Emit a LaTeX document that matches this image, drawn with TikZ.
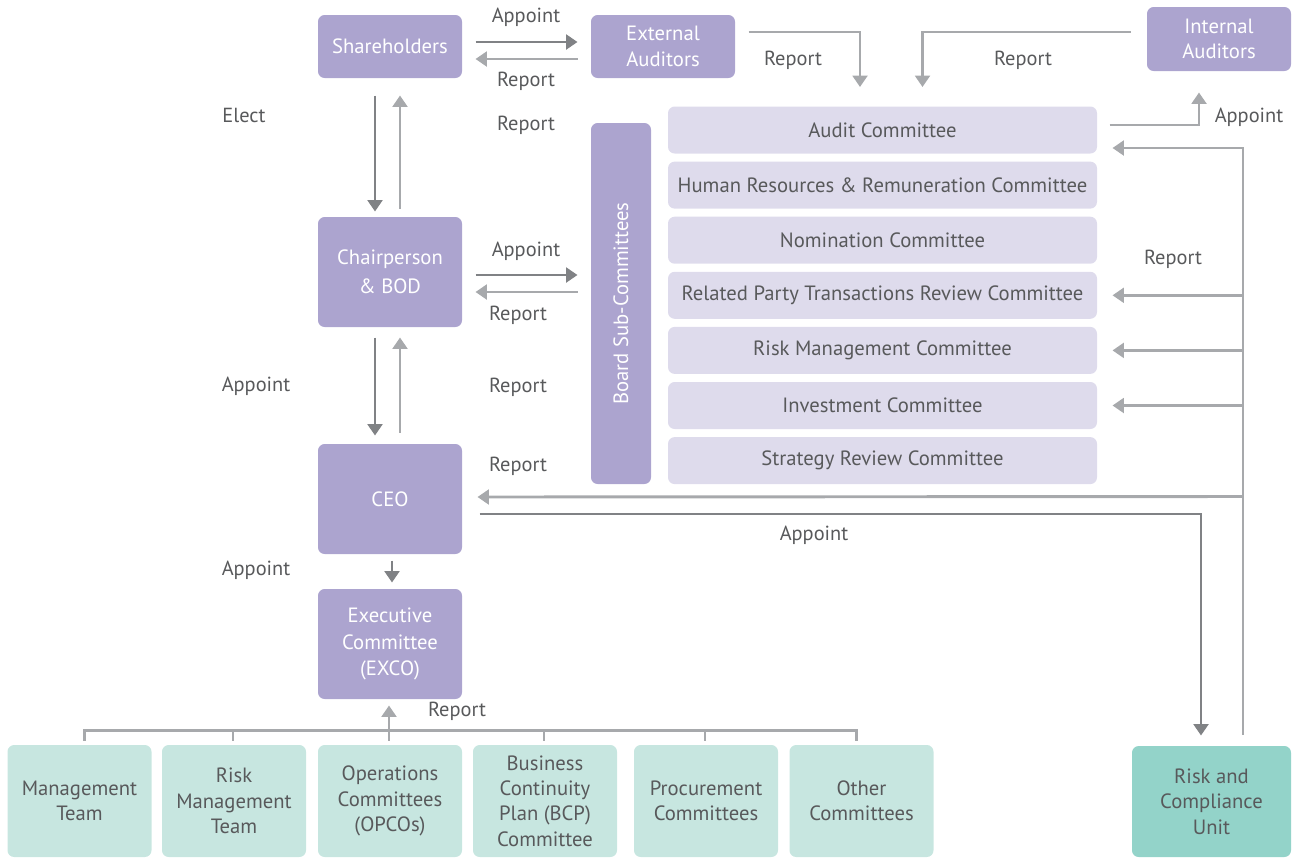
\documentclass[tikz,border=0pt]{standalone}
\usepackage{fontspec}
\setmainfont{PT Sans}
\usetikzlibrary{calc,arrows.meta}

\definecolor{boxpurple}{HTML}{ACA4CF}
\definecolor{lightpurple}{HTML}{DEDBEC}
\definecolor{lightteal}{HTML}{C7E6E0}
\definecolor{darkteal}{HTML}{93D3C9}
\definecolor{darkline}{HTML}{808285}
\definecolor{lightline}{HTML}{A7A9AC}
\definecolor{txtgray}{HTML}{58595B}

\tikzset{every picture/.style={line width=0.75pt}}
\tikzset{
	pbox/.style={fill=boxpurple, rounded corners=5pt, text=white, align=center, inner sep=0pt,
		minimum width=108pt, font=\fontsize{15.5}{22}\selectfont},
	cbox/.style={fill=lightpurple, rounded corners=5pt, text=txtgray, inner sep=0pt,
		minimum width=321.75pt, minimum height=35.25pt, font=\fontsize{15.5}{18}\selectfont},
	tbox/.style={fill=lightteal, rounded corners=5pt, text=txtgray, align=center, inner sep=0pt,
		minimum width=108pt, minimum height=84pt, font=\fontsize{15.5}{19}\selectfont},
	lbl/.style={text=txtgray, inner sep=0pt, font=\fontsize{15.3}{18}\selectfont},
	darr/.style={draw=darkline, line width=2.2pt, -{Triangle[width=11pt,length=8.5pt]}},
	larr/.style={draw=lightline, line width=2.2pt, -{Triangle[width=11pt,length=8.5pt]}},
	lline/.style={draw=lightline, line width=2.2pt},
}

\begin{document}
\begin{tikzpicture}[x=0.75pt,y=0.75pt,yscale=-1,xscale=1]
	\useasboundingbox (0,0) rectangle (1293,858);
	
	% Top row
	\node [pbox, minimum height=47.25pt] (sh) at (390,46.5) {Shareholders};
	\node [pbox, minimum height=47.25pt, font=\fontsize{15.5}{19}\selectfont] (ext) at (663,46.5) {External\\Auditors};
	\node [pbox, minimum height=48pt, font=\fontsize{15.5}{19}\selectfont] (int) at (1219,39) {Internal\\Auditors};
	
	% Left column
	\node [pbox, minimum height=82.5pt] (bod) at (390,272) {Chairperson\\\& BOD};
	\node [pbox, minimum height=82.5pt] (ceo) at (390,499) {CEO};
	\node [pbox, minimum height=82.5pt, font=\fontsize{15.5}{20}\selectfont] (exco) at (390,644) {Executive\\Committee\\(EXCO)};
	
	% Board sub-committees
	\node [pbox, minimum width=45pt, minimum height=270.75pt] (bsc) at (621,303.5) {\rotatebox{90}{Board Sub-Committees}};
	\foreach \nm/\txt [count=\i from 0] in {c1/Audit Committee,
		c2/Human Resources \& Remuneration Committee,
		c3/Nomination Committee,
		c4/Related Party Transactions Review Committee,
		c5/Risk Management Committee,
		c6/Investment Committee,
		c7/Strategy Review Committee}
	\node [cbox] (\nm) at (882.5,130+55.1*\i) {\txt};
	
	% Bottom row
	\node [tbox] (b1) at (79.5,801) {Management\\Team};
	\node [tbox] (b2) at (234,801) {Risk\\Management\\Team};
	\node [tbox] (b3) at (390,801) {Operations\\Committees\\(OPCOs)};
	\node [tbox] (b4) at (545,801) {Business\\Continuity\\Plan (BCP)\\Committee};
	\node [tbox] (b5) at (706,801) {Procurement\\Committees};
	\node [tbox] (b6) at (861.5,801) {Other\\Committees};
	\node [tbox, fill=darkteal, minimum width=119.25pt, minimum height=83.25pt] (rc) at (1211.5,801.5) {Risk and\\Compliance\\Unit};
	
	% Shareholders and auditors
	\draw [darr] ($(sh.east)+(13,-4.5)$) -- ($(ext.west)+(-13,-4.5)$);
	\draw [larr] ($(ext.west)+(-13,12.5)$) -- ($(sh.east)+(13,12.5)$);
	\draw [larr] ($(ext.east)+(13,-14.5)$) -| ($(c1.north)+(-22.5,-19)$);
	\draw [larr] ($(int.west)+(-16,-7)$) -| ($(c1.north)+(40,-19)$);
	\draw [larr] ($(c1.east)+(12,-5)$) -| ($(int.south)+(-20,21)$);
	
	% Vertical chain
	\draw [darr] ($(sh.south)+(-15,17)$) -- ($(bod.north)+(-15,-5)$);
	\draw [larr] ($(bod.north)+(10,-8)$) -- ($(sh.south)+(10,17)$);
	\draw [darr] ($(bod.south)+(-15,10)$) -- ($(ceo.north)+(-15,-8)$);
	\draw [larr] ($(ceo.north)+(10,-11)$) -- ($(bod.south)+(10,10)$);
	\draw [darr] ($(ceo.south)+(2,6)$) -- ($(exco.north)+(2,-6)$);
	
	% Board and sub-committees
	\draw [darr] ($(bod.east)+(13,3)$) -- ($(bod.east -| bsc.west)+(-13,3)$);
	\draw [larr] ($(bod.east -| bsc.west)+(-13,20)$) -- ($(bod.east)+(13,20)$);
	
	% Risk and compliance reporting
	\draw [larr] ($(rc.north)+(31.5,-11)$) |- ($(c1.east)+(15,18)$);
	\foreach \nm in {c4,c5,c6}
	\draw [larr] ($(\nm.east)+(146,0)$) -- ($(\nm.east)+(15,0)$);
	\draw [larr] ($(rc.north)+(31.5,-249)$) -- ($(ceo.east)+(15,-2)$);
	\draw [darr] ($(ceo.east)+(17,15)$) -| ($(rc.north)+(-10.5,-10)$);
	
	% Management committees
	\draw [lline] ($(b1.north)+(5,-4)$) |- ($(b6.north)+(-5,-14)$) -- ($(b6.north)+(-5,-4)$);
	\foreach \nm in {b2,b4,b5}
	\draw [lline] ($(\nm.north)+(-1,-4)$) -- ++(0,-10);
	\draw [larr] ($(b3.north)+(-1,-4)$) -- ($(exco.south)+(-1,6)$);
	
	% Text Node
	\node [lbl] (l1) at (526,17) {Appoint};
	\node [lbl] (l2) at (526,81) {Report};
	\node [lbl] (l3) at (793,60) {Report};
	\node [lbl] (l4) at (1023,60) {Report};
	\node [lbl] (l5) at (1249,117) {Appoint};
	\node [lbl] (l6) at (244,115) {Elect};
	\node [lbl] (l7) at (526,125) {Report};
	\node [lbl] (l8) at (526,251) {Appoint};
	\node [lbl] (l9) at (518,315) {Report};
	\node [lbl] (l10) at (1173,259) {Report};
	\node [lbl] (l11) at (256,386) {Appoint};
	\node [lbl] (l12) at (518,387) {Report};
	\node [lbl] (l13) at (518,466) {Report};
	\node [lbl] (l14) at (814,535) {Appoint};
	\node [lbl] (l15) at (256,570) {Appoint};
	\node [lbl] (l16) at (457,711) {Report};
	
\end{tikzpicture}
\end{document}
